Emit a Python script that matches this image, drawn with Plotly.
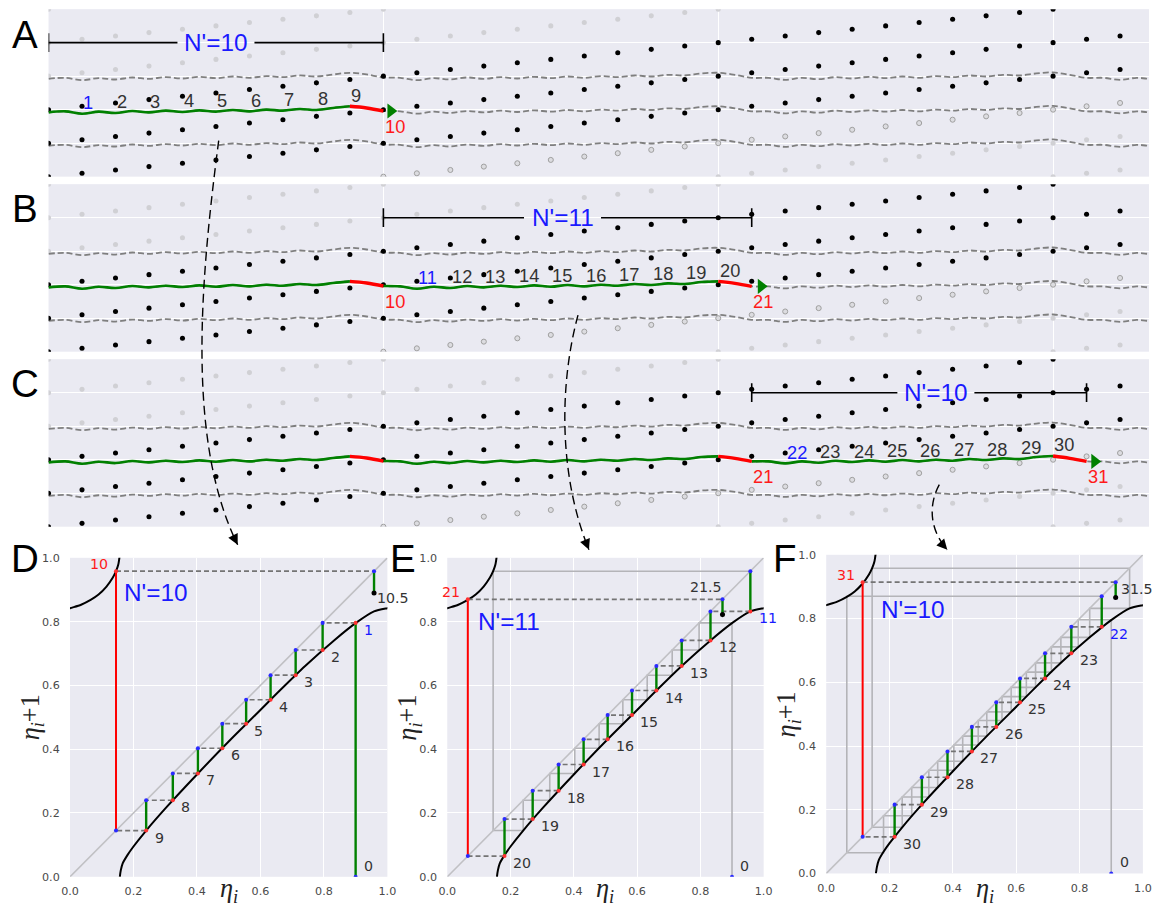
import plotly.graph_objects as go

# The viewer shows the page with its 8 px body margin and shrinks it to the
# figure size; positions below are reference pixels, mapped through that.
W, H = 1158, 907
BODY = 8
SX = W / (W + 2 * BODY)
SY = H / (H + 2 * BODY)

BG = "#EAEAF2"
GREEN = "#008000"
RED = "#ff1a1a"
BLUE = "#1a1aff"
DARK = "#333333"
SANS = "Liberation Sans, Arial, sans-serif"
SERIF = "Liberation Serif, DejaVu Serif, serif"

# ------------------------------------------------------------------ top panels data
LATTICE_COLUMNS = [0, 1, 2, 3, 4, 5, 6, 7, 8, 9, 10, 11, 12, 13, 14, 15, 16,
                   17, 18, 19, 20, 21, 22, 23, 24, 25, 26, 27, 28, 29, 30, 31, 32, 33]
COLUMN_RISE = [0.0, 0.1, 0.2, 0.3, 0.4, 0.5, 0.6, 0.7, 0.8, 0.9,
               1.0, 1.1, 1.2, 1.3, 1.4, 1.5, 1.6, 1.7, 1.8, 1.9,
               2.0, 2.1, 2.2, 2.3, 2.4, 2.5, 2.6, 2.7, 2.8, 2.9,
               3.0, 3.1, 3.2, 3.3]
ROW_INDEX = [-3, -2, -1, 0, 1, 2, 3, 4, 5, 6]
BLACK_ROWS = [0, 1, 2]
HOLLOW_ROWS = [3]

CHAIN_X = [0.0, 0.5, 1.0, 1.5, 2.0, 2.5, 3.0, 3.5, 4.0, 4.5, 5.0, 5.5, 6.0, 6.5,
           7.0, 7.5, 8.0, 8.5, 9.0, 9.5, 10.0, 10.5, 11.0, 11.5, 12.0, 12.5,
           13.0, 13.5, 14.0, 14.5, 15.0, 15.5, 16.0, 16.5, 17.0, 17.5, 18.0,
           18.5, 19.0, 19.5, 20.0, 20.5, 21.0, 21.5, 22.0, 22.5, 23.0, 23.5,
           24.0, 24.5, 25.0, 25.5, 26.0, 26.5, 27.0, 27.5, 28.0, 28.5, 29.0,
           29.5, 30.0, 30.5, 31.0, 31.5, 32.0, 32.5, 33.0, 33.5]
CHAIN_Y = [-0.08, -0.05, -0.12, -0.06, -0.10, -0.04, -0.08, -0.03, -0.07, -0.02,
           -0.06, -0.01, -0.05, 0.00, -0.03, 0.02, -0.01, 0.05, 0.10, 0.05,
           -0.04, -0.05, -0.12, -0.06, -0.10, -0.04, -0.08, -0.03, -0.07, -0.02,
           -0.06, -0.01, -0.05, 0.00, -0.03, 0.02, -0.01, 0.04, 0.02, 0.08,
           0.10, 0.04, -0.05, -0.05, -0.11, -0.05, -0.09, -0.03, -0.07, -0.02,
           -0.06, -0.01, -0.05, 0.00, -0.03, 0.02, -0.01, 0.04, 0.02, 0.08,
           0.11, 0.04, -0.05, -0.05, -0.11, -0.05, -0.09, -0.04]
CHAIN_COPIES = [-1, 0, 1]

TOP_PANELS = ["A", "B", "C"]
GREEN_SPANS = {"A": [(0, 9)], "B": [(0, 9), (10, 20)], "C": [(0, 9), (10, 20), (21, 30)]}
RED_SPANS = {"A": [(9, 10)], "B": [(9, 10), (20, 21)], "C": [(9, 10), (20, 21), (30, 31)]}
ARROW_TIP_X = {"A": 10.22, "B": 21.28, "C": 31.24}
NUM_LABELS = {"A": [1, 2, 3, 4, 5, 6, 7, 8, 9],
              "B": [11, 12, 13, 14, 15, 16, 17, 18, 19, 20],
              "C": [22, 23, 24, 25, 26, 27, 28, 29, 30]}
BLUE_LABEL = {"A": 1, "B": 11, "C": 22}
RED_LABELS = {"A": [0, 10], "B": [10, 21], "C": [21, 31]}
BARS = {"A": (0, 10, 5.0, "N'=10"), "B": (10, 21, 15.35, "N'=11"), "C": (21, 31, 26.5, "N'=10")}
BAR_LEVEL = 2.0
BAR_GAP = 1.15

# ------------------------------------------------------------------ bottom panels data
MAP_LOWER_X = [0.157, 0.160, 0.166, 0.181, 0.200, 0.240, 0.302, 0.403, 0.507,
               0.584, 0.661, 0.741, 0.832, 0.901, 0.958, 1.000, 1.02]
MAP_LOWER_Y = [0.000, 0.020, 0.042, 0.068, 0.095, 0.145, 0.216, 0.324, 0.431,
               0.507, 0.584, 0.661, 0.741, 0.796, 0.832, 0.842, 0.845]
MAP_UPPER_X = [-0.02, 0.000, 0.035, 0.065, 0.090, 0.115, 0.135, 0.145, 0.152, 0.157]
MAP_UPPER_Y = [0.835, 0.842, 0.853, 0.868, 0.885, 0.910, 0.938, 0.958, 0.978, 1.01]

ETA = {
    "D": [0.900, 0.796, 0.711, 0.632, 0.555, 0.480, 0.403, 0.324, 0.240, 0.145, 0.958],
    "E": [0.958, 0.832, 0.741, 0.661, 0.584, 0.507, 0.431, 0.352, 0.270, 0.181, 0.065, 0.870],
    "F": [0.870, 0.774, 0.691, 0.612, 0.537, 0.460, 0.383, 0.302, 0.216, 0.115, 0.914],
}
HALF = {"D": 0.890, "E": 0.822, "F": 0.866}
FIRST_LABEL = {"D": 1, "E": 11, "F": 22}
HISTORY = {"D": [], "E": ["D"], "F": ["D", "E"]}
ORIGIN_ETA = 0.90
NPRIME = {"D": ("N'=10", 0.27, 0.89), "E": ("N'=11", 0.196, 0.80), "F": ("N'=10", 0.272, 0.827)}
HALF_LABEL = {"D": ("10.5", 0.962, 0.875, "left"), "E": ("21.5", 0.876, 0.91, "right"),
              "F": ("31.5", 0.925, 0.892, "left")}
BOTTOM_PANELS = ["D", "E", "F"]

# ------------------------------------------------------------------ geometry (reference pixels)
TOP_ROWS = {"A": (11, 178), "B": (185.5, 352.5), "C": (360, 527)}
TOP_LEFT = 47.5
UNIT_PX = 33.55
BOTTOM_BOX = {"D": (69, 387, 558, 876), "E": (447, 764, 558, 876), "F": (826.7, 1144, 555, 872.7)}
LETTER_POS = {"A": (24, 36), "B": (24, 210), "C": (24, 384), "D": (24, 559), "E": (403, 559), "F": (785, 559)}
CURVED_ARROWS = [
    [(218, 142), (200, 280), (185, 440), (237, 545)],
    [(578, 316), (558, 390), (560, 480), (589, 550)],
    [(940, 485), (929, 505), (930, 530), (948, 550)],
]


def fx(p):
    return min(1.0, max(0.0, (p / SX - BODY) / W))


def fy(p):
    return min(1.0, max(0.0, 1 - (p / SY - BODY) / H))


def fs(size):
    return size / SX


fig = go.Figure()
annotations = []
shapes = []
layout = dict(width=W, height=H, autosize=False, margin=dict(l=0, r=0, t=0, b=0, pad=0),
              paper_bgcolor="white", plot_bgcolor=BG, showlegend=False)

top_right_px = SX * (W + BODY)
top_xmax = (top_right_px - TOP_LEFT) / UNIT_PX

# ------------------------------------------------------------------ top panels
for k, p in enumerate(TOP_PANELS):
    s = "" if k == 0 else str(k + 1)
    xa, ya = "x" + s, "y" + s
    top, bot = TOP_ROWS[p]
    layout["xaxis" + s] = dict(domain=[fx(TOP_LEFT), 1.0], range=[0, top_xmax], tickvals=[10, 20, 30],
                               showticklabels=False, showgrid=True, gridcolor="white", gridwidth=1,
                               zeroline=False, showline=False, ticks="", anchor=ya)
    layout["yaxis" + s] = dict(domain=[fy(bot), fy(top)], range=[-2, 3], tickvals=[-1, 0, 1, 2],
                               showticklabels=False, showgrid=True, gridcolor="white", gridwidth=1,
                               zeroline=False, showline=False, ticks="", anchor=xa)

    groups = {"light": ([], []), "hollow": ([], []), "black": ([], [])}
    for col, rise in zip(LATTICE_COLUMNS, COLUMN_RISE):
        for m in ROW_INDEX:
            yv = rise - m
            if yv < -2.3 or yv > 3.3:
                continue
            g = "black" if m in BLACK_ROWS else ("hollow" if m in HOLLOW_ROWS else "light")
            groups[g][0].append(col)
            groups[g][1].append(yv)
    fig.add_trace(go.Scatter(x=groups["light"][0], y=groups["light"][1], mode="markers",
                             marker=dict(size=fs(5), color="#d0d0d4"), xaxis=xa, yaxis=ya))
    fig.add_trace(go.Scatter(x=groups["hollow"][0], y=groups["hollow"][1], mode="markers",
                             marker=dict(size=fs(5), color="#dcdce0", line=dict(color="#a0a0a0", width=1)),
                             xaxis=xa, yaxis=ya))

    for c in CHAIN_COPIES:
        fig.add_trace(go.Scatter(x=CHAIN_X, y=[v + c for v in CHAIN_Y], mode="lines",
                                 line=dict(color="#7f7f7f", width=1.8, dash="6px,3px", shape="spline"),
                                 xaxis=xa, yaxis=ya))

    fig.add_trace(go.Scatter(x=groups["black"][0], y=groups["black"][1], mode="markers",
                             marker=dict(size=fs(5), color="black"), xaxis=xa, yaxis=ya))

    for (a, b) in GREEN_SPANS[p]:
        xs = [x for x in CHAIN_X if a <= x <= b]
        ys = [y for x, y in zip(CHAIN_X, CHAIN_Y) if a <= x <= b]
        fig.add_trace(go.Scatter(x=xs, y=ys, mode="lines",
                                 line=dict(color=GREEN, width=2.6, shape="spline"), xaxis=xa, yaxis=ya))
    for (a, b) in RED_SPANS[p]:
        xs = [x for x in CHAIN_X if a <= x <= b]
        ys = [y for x, y in zip(CHAIN_X, CHAIN_Y) if a <= x <= b]
        fig.add_trace(go.Scatter(x=xs, y=ys, mode="lines",
                                 line=dict(color="red", width=3.4, shape="spline"), xaxis=xa, yaxis=ya))
    end_i = RED_SPANS[p][-1][1]
    fig.add_trace(go.Scatter(x=[ARROW_TIP_X[p]], y=[CHAIN_Y[2 * end_i]], mode="markers",
                             marker=dict(symbol="triangle-right", size=fs(13), color=GREEN),
                             xaxis=xa, yaxis=ya))

    # N' bar
    a, b, cx, txt = BARS[p]
    fig.add_trace(go.Scatter(
        x=[a, cx - BAR_GAP, None, cx + BAR_GAP, b, None, a, a, None, b, b],
        y=[BAR_LEVEL, BAR_LEVEL, None, BAR_LEVEL, BAR_LEVEL, None,
           BAR_LEVEL - 0.28, BAR_LEVEL + 0.28, None, BAR_LEVEL - 0.28, BAR_LEVEL + 0.28],
        mode="lines", line=dict(color="black", width=1.6), xaxis=xa, yaxis=ya))
    annotations.append(dict(x=cx, y=BAR_LEVEL, xref=xa, yref=ya, text=txt, showarrow=False,
                            xanchor="center", yanchor="middle",
                            font=dict(family=SANS, size=fs(24), color=BLUE)))

    for n in NUM_LABELS[p]:
        col = BLUE if n == BLUE_LABEL[p] else DARK
        annotations.append(dict(x=n - 0.02, y=CHAIN_Y[2 * n] + 0.33, xref=xa, yref=ya, text=str(n),
                                showarrow=False, xanchor="left", yanchor="middle",
                                font=dict(family=SANS, size=fs(18), color=col)))
    for n in RED_LABELS[p]:
        annotations.append(dict(x=n - 0.02, y=-0.5, xref=xa, yref=ya, text=str(n),
                                showarrow=False, xanchor="left", yanchor="middle",
                                font=dict(family=SANS, size=fs(18), color=RED)))


# ------------------------------------------------------------------ bottom panels
def staircase(eta, from_zero):
    xs, ys = [eta[0], eta[0]], [0.0 if from_zero else eta[0], eta[1]]
    for n in range(1, len(eta) - 1):
        xs += [eta[n], eta[n]]
        ys += [eta[n], eta[n + 1]]
    xs.append(eta[-1])
    ys.append(eta[-1])
    return xs, ys


TICKS = [0, 0.2, 0.4, 0.6, 0.8, 1.0]
for k, p in enumerate(BOTTOM_PANELS):
    s = str(k + 4)
    xa, ya = "x" + s, "y" + s
    x0, x1, y0, y1 = BOTTOM_BOX[p]
    common = dict(range=[0, 1], tickvals=TICKS, ticktext=["%.1f" % t for t in TICKS],
                  tickfont=dict(family="DejaVu Sans", size=fs(11), color="#4a4a4a"),
                  showgrid=True, gridcolor="white", gridwidth=1.2, zeroline=False, showline=False,
                  ticks="outside", tickcolor="rgba(0,0,0,0)")
    layout["xaxis" + s] = dict(domain=[fx(x0), fx(x1)], anchor=ya, ticklen=4, **common)
    layout["yaxis" + s] = dict(domain=[fy(y1), fy(y0)], anchor=xa, ticklen=7, **common)

    # previous trajectories in gray
    for hp in HISTORY[p]:
        hx, hy = staircase(ETA[hp], hp == "D")
        fig.add_trace(go.Scatter(x=hx, y=hy, mode="lines", line=dict(color="#b4b4b8", width=1.6),
                                 xaxis=xa, yaxis=ya))
    fig.add_trace(go.Scatter(x=[0, 1], y=[0, 1], mode="lines", line=dict(color="#c0c0c4", width=1.6),
                             xaxis=xa, yaxis=ya))
    fig.add_trace(go.Scatter(x=MAP_LOWER_X, y=MAP_LOWER_Y, mode="lines",
                             line=dict(color="black", width=2, shape="spline", smoothing=0.8),
                             xaxis=xa, yaxis=ya))
    fig.add_trace(go.Scatter(x=MAP_UPPER_X, y=MAP_UPPER_Y, mode="lines",
                             line=dict(color="black", width=2, shape="spline", smoothing=0.8),
                             xaxis=xa, yaxis=ya))

    eta = ETA[p]
    L = len(eta)
    from_zero = (p == "D")
    # dashed horizontals
    dx, dy = [], []
    for n in range(L - 1):
        dx += [eta[n], eta[n + 1], None]
        dy += [eta[n + 1], eta[n + 1], None]
    fig.add_trace(go.Scatter(x=dx, y=dy, mode="lines",
                             line=dict(color="#747474", width=1.7, dash="5px,3px"), xaxis=xa, yaxis=ya))
    # verticals
    gx, gy = [], []
    for n in range(L - 2):
        base = 0.0 if (n == 0 and from_zero) else eta[n]
        gx += [eta[n], eta[n], None]
        gy += [base, eta[n + 1], None]
    gx += [eta[-1], eta[-1], None]
    gy += [eta[-1], HALF[p], None]
    fig.add_trace(go.Scatter(x=gx, y=gy, mode="lines", line=dict(color=GREEN, width=2.4),
                             xaxis=xa, yaxis=ya))
    fig.add_trace(go.Scatter(x=[eta[L - 2], eta[L - 2]], y=[eta[L - 2], eta[L - 1]], mode="lines",
                             line=dict(color="red", width=2), xaxis=xa, yaxis=ya))
    # small dots: blue on the diagonal, red on the map
    diag = eta[1:] if from_zero else eta
    bx = [ORIGIN_ETA] + diag
    by = [0.0] + diag
    fig.add_trace(go.Scatter(x=bx, y=by, mode="markers", marker=dict(size=fs(4), color="#2a2aff"),
                             xaxis=xa, yaxis=ya))
    fig.add_trace(go.Scatter(x=eta[:-1], y=eta[1:], mode="markers", marker=dict(size=fs(4), color="#ff3030"),
                             xaxis=xa, yaxis=ya))
    fig.add_trace(go.Scatter(x=[eta[-1]], y=[HALF[p]], mode="markers", marker=dict(size=fs(5), color="black"),
                             xaxis=xa, yaxis=ya))

    # labels
    annotations.append(dict(x=ORIGIN_ETA + 0.02, y=0.035, xref=xa, yref=ya, text="0", showarrow=False,
                            xanchor="left", yanchor="middle",
                            font=dict(family="DejaVu Sans", size=fs(14), color=DARK)))
    for n in range(L - 2):
        col = BLUE if n == 0 else DARK
        annotations.append(dict(x=eta[n] + 0.02, y=eta[n + 1] - 0.022, xref=xa, yref=ya,
                                text=str(FIRST_LABEL[p] + n), showarrow=False, xanchor="left",
                                yanchor="middle", font=dict(family="DejaVu Sans", size=fs(14), color=col)))
    annotations.append(dict(x=eta[L - 2] - 0.018, y=eta[L - 1] + 0.022, xref=xa, yref=ya,
                            text=str(FIRST_LABEL[p] + L - 2), showarrow=False, xanchor="right",
                            yanchor="middle", font=dict(family="DejaVu Sans", size=fs(14), color=RED)))
    t, hx, hy, anc = HALF_LABEL[p]
    annotations.append(dict(x=hx, y=hy, xref=xa, yref=ya, text=t, showarrow=False, xanchor=anc,
                            yanchor="middle", font=dict(family="DejaVu Sans", size=fs(14), color=DARK)))
    t, nx, ny = NPRIME[p]
    annotations.append(dict(x=nx, y=ny, xref=xa, yref=ya, text=t, showarrow=False,
                            xanchor="center", yanchor="middle",
                            font=dict(family=SANS, size=fs(24), color=BLUE)))
    # axis titles
    annotations.append(dict(x=fx((x0 + x1) / 2), y=fy(890), xref="paper", yref="paper",
                            text="<i>η</i><sub><i>i</i></sub>", showarrow=False,
                            xanchor="center", yanchor="middle",
                            font=dict(family=SERIF, size=fs(26), color="#222")))
    annotations.append(dict(x=fx(x0 - 38), y=fy((y0 + y1) / 2), xref="paper", yref="paper",
                            text="<i>η</i><sub><i>i</i></sub>+1", showarrow=False, textangle=-90,
                            xanchor="center", yanchor="middle",
                            font=dict(family=SERIF, size=fs(26), color="#222")))

# ------------------------------------------------------------------ panel letters
for name, (lx, ly) in LETTER_POS.items():
    annotations.append(dict(x=fx(lx), y=fy(ly), xref="paper", yref="paper", text=name, showarrow=False,
                            xanchor="center", yanchor="middle",
                            font=dict(family=SANS, size=fs(38), color="black")))

# ------------------------------------------------------------------ curved dashed arrows
for pts in CURVED_ARROWS:
    (ax0, ay0), (ax1, ay1), (ax2, ay2), (ax3, ay3) = pts
    path = "M %.5f,%.5f C %.5f,%.5f %.5f,%.5f %.5f,%.5f" % (
        fx(ax0), fy(ay0), fx(ax1), fy(ay1), fx(ax2), fy(ay2), fx(ax3), fy(ay3))
    shapes.append(dict(type="path", path=path, xref="paper", yref="paper",
                       line=dict(color="black", width=1.4, dash="9px,5px"), layer="above"))
    ddx, ddy = ax3 - ax2, ay3 - ay2
    norm = (ddx ** 2 + ddy ** 2) ** 0.5
    annotations.append(dict(x=fx(ax3), y=fy(ay3), xref="paper", yref="paper", text="",
                            showarrow=True, arrowhead=2, arrowsize=1.5, arrowwidth=1.4,
                            arrowcolor="black", ax=-ddx / norm * 12 / SX, ay=-ddy / norm * 12 / SY))

layout["annotations"] = annotations
layout["shapes"] = shapes
fig.update_layout(**layout)
fig.write_html("out.html")
